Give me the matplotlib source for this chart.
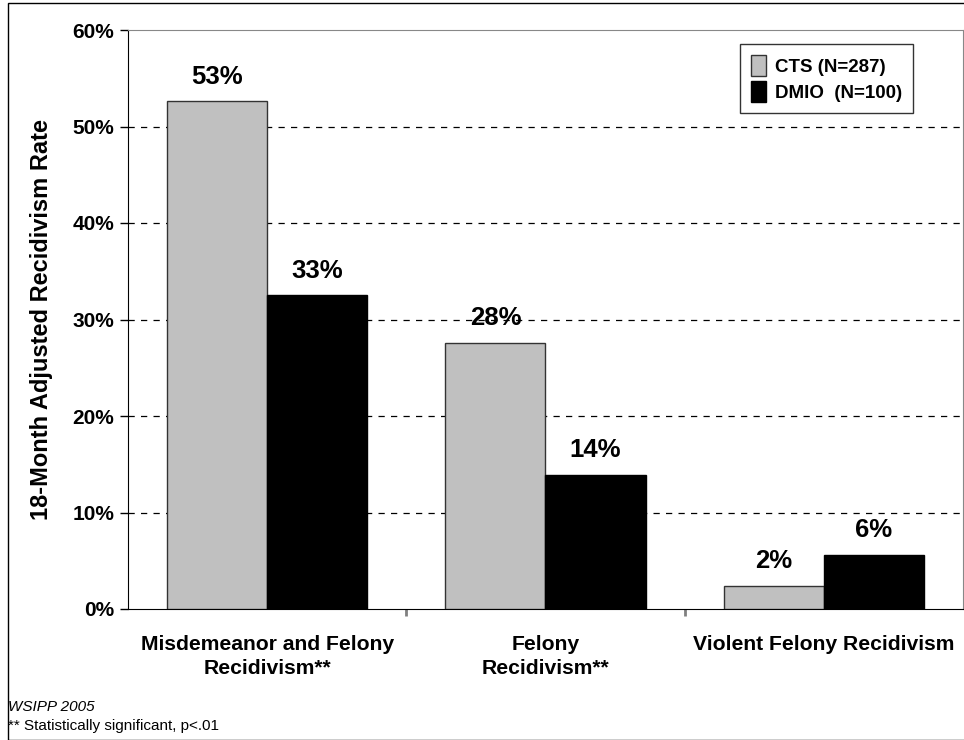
import numpy as np
import matplotlib.pyplot as plt

plt.rcParams['font.family'] = ['Liberation Sans', 'DejaVu Sans']

categories = ['Misdemeanor and Felony\nRecidivism**', 'Felony\nRecidivism**', 'Violent Felony Recidivism']
cts = [52.6, 27.6, 2.4]
dmio = [32.5, 13.9, 5.6]
cts_labels = ['53%', '28%', '2%']
dmio_labels = ['33%', '14%', '6%']
yticks = [0, 10, 20, 30, 40, 50, 60]

fig = plt.figure(figsize=(9.64, 7.4), dpi=100)
ax = fig.add_axes([128/964, 131/740, 835/964, 579/740])

x = np.arange(len(categories))
w = 0.36
b1 = ax.bar(x - w/2, cts, w, color='#c0c0c0', edgecolor='#333333', linewidth=1, label='CTS (N=287)', zorder=3)
b2 = ax.bar(x + w/2, dmio, w, color='black', edgecolor='black', linewidth=1, label='DMIO  (N=100)', zorder=3)

for rect, lab in zip(b1, cts_labels):
    ax.text(rect.get_x() + rect.get_width()/2, rect.get_height() + 1.3, lab,
            ha='center', va='bottom', fontsize=18.5, fontweight='bold')
for rect, lab in zip(b2, dmio_labels):
    ax.text(rect.get_x() + rect.get_width()/2, rect.get_height() + 1.3, lab,
            ha='center', va='bottom', fontsize=18.5, fontweight='bold')

ax.set_xlim(-0.5, 2.5)
ax.set_ylim(0, 60)
ax.set_yticks(yticks)
ax.set_yticklabels([f'{t}%' for t in yticks], fontsize=15, fontweight='bold')
ax.tick_params(axis='y', direction='out', length=6, width=1, pad=4)
ax.set_xticks(x)
ax.set_xticklabels(categories, fontsize=15.2, fontweight='bold', linespacing=1.3)
ax.tick_params(axis='x', length=0, pad=19)
ax.set_xticks([0.5, 1.5], minor=True)
ax.tick_params(axis='x', which='minor', length=5, color='gray', width=2)

for t in yticks[1:-1]:
    ax.axhline(t, color='black', linestyle=(0, (5, 5)), linewidth=0.9, zorder=1)

for s in ['top', 'right']:
    ax.spines[s].set_color('#888888')
ax.spines['left'].set_color('black')
ax.spines['bottom'].set_color('black')

ax.set_ylabel('18-Month Adjusted Recidivism Rate', fontsize=17, fontweight='bold', labelpad=14)

leg = ax.legend(loc='upper right', bbox_to_anchor=(0.940, 0.976), borderaxespad=0,
                prop={'weight': 'bold', 'size': 13.5}, frameon=True, fancybox=False,
                edgecolor='black', handlelength=0.8, handleheight=1.3, borderpad=0.6,
                labelspacing=0.3, handletextpad=0.45)
leg.get_frame().set_linewidth(1)

fig.text(8/964, 1 - 707/740, 'WSIPP 2005', fontsize=11, style='italic', va='center')
fig.text(8/964, 1 - 726/740, '** Statistically significant, p<.01', fontsize=11, va='center')

border = plt.Rectangle((8/964, 0), 1.0, 1 - 3/740, transform=fig.transFigure,
                       fill=False, edgecolor='black', linewidth=1)
fig.patches.append(border)

fig.savefig('out.png', dpi=100)
